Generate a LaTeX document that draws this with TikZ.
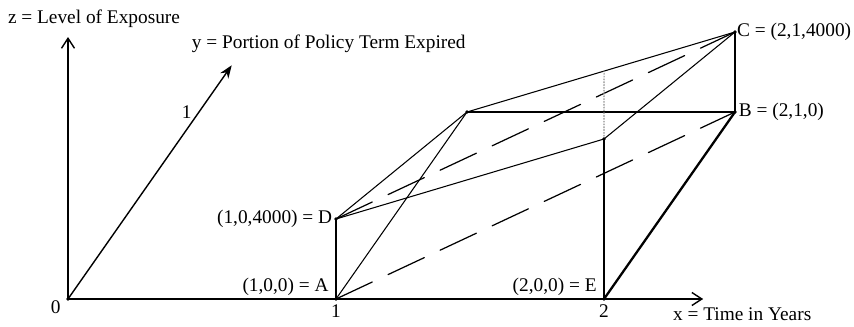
\documentclass[tikz,border=0pt]{standalone}
\usepackage{fontspec}
\setmainfont{Liberation Serif}
\usepackage{tikz}
\usetikzlibrary{arrows.meta,calc,positioning}
\tikzset{
 axisline/.style={line width=.8pt},
 edgethin/.style={line width=.6pt},
 edgethick/.style={line width=1.3pt},
 hiddenedge/.style={line width=.7pt,dash pattern=on .8cm off .35cm},
 hiddenguide/.style={black!45,line width=.6pt,densely dotted},
 ptlabel/.style={inner sep=1pt,font=\fontsize{11}{13}\selectfont},
}

\begin{document}
\begin{tikzpicture}[line cap=round,line join=round,
 x={(5.36cm,0cm)},y={(2.62cm,3.74cm)},z={(0cm,.4cm)}]
 \useasboundingbox (-1.36cm,-.54cm) rectangle (15.72cm,5.98cm);
 % Wierzchołki bryły (z w tysiącach).
 \coordinate (O) at (0,0,0);
 \coordinate (A) at (1,0,0);
 \coordinate (D) at (1,0,4);
 \coordinate (E) at (2,0,0);
 \coordinate (Q) at (2,0,8);
 \coordinate (Qup) at (2,0,12);
 \coordinate (P) at (1,1,0);
 \coordinate (B) at (2,1,0);
 \coordinate (C) at (2,1,4);
 \coordinate (R) at (intersection of P--C and Q--Qup);
 \coordinate (xend) at (2.37,0,0);
 \coordinate (yend) at (0,1.25,0);
 \coordinate (zend) at (0,0,13.1);
 \coordinate (yone) at (0,1,0);
 % Osie.
 \draw[axisline,-{Straight Barb[length=2mm,width=2.6mm]}] (O)--(xend);
 \draw[axisline,-{Straight Barb[length=2mm,width=2.6mm]}] (O)--(zend);
 \draw[axisline,-{Stealth[length=2.6mm]}] (O)--(yend);
 % Krawędzie widoczne i zasłonięte.
 \draw[edgethick] (A)--(D);
 \draw[edgethick] (B)--(C);
 \draw[edgethick] (E)--(B);
 \draw[edgethin] (E)--(Q);
 \draw[edgethin] (P)--(B);
 \draw[edgethin] (A)--(P);
 \draw[edgethin] (D)--(P);
 \draw[edgethin] (D)--(Q);
 \draw[edgethin] (P)--(C);
 \draw[edgethin] (Q)--(C);
 \draw[hiddenedge] (D)--(C);
 \draw[hiddenedge] (A)--(B);
 \draw[hiddenguide] (Q)--(R);
 \foreach \p in {O,A,D,E,B,C,P,Q}
  \fill (\p) circle(1.1pt);
 % Opisy.
 \node[ptlabel,above=4pt,xshift=.52cm] (zlab) at (zend) {z = Level of Exposure};
 \node[ptlabel,above=6pt,xshift=1.94cm] (ylab) at (yend) {y = Portion of Policy Term Expired};
 \node[ptlabel,below=4pt,xshift=.78cm] (xlab) at (xend) {x = Time in Years};
 \node[ptlabel,right=0pt] (labC) at (C) {C = (2,1,4000)};
 \node[ptlabel,right=1pt] (labB) at (B) {B = (2,1,0)};
 \node[ptlabel,left=1pt] (labD) at (D) {(1,0,4000) = D};
 \node[ptlabel,above left=1pt and 3pt] (labA) at (A) {(1,0,0) = A};
 \node[ptlabel,above left=1pt and 3pt] (labE) at (E) {(2,0,0) = E};
 \node[ptlabel,below left=0pt and 3pt] (labO) at (O) {0};
 \node[ptlabel,below=2pt] (xone) at (A) {1};
 \node[ptlabel,below=2pt] (xtwo) at (E) {2};
 \node[ptlabel,left=3pt] (ylabone) at (yone) {1};
\end{tikzpicture}
\end{document}
